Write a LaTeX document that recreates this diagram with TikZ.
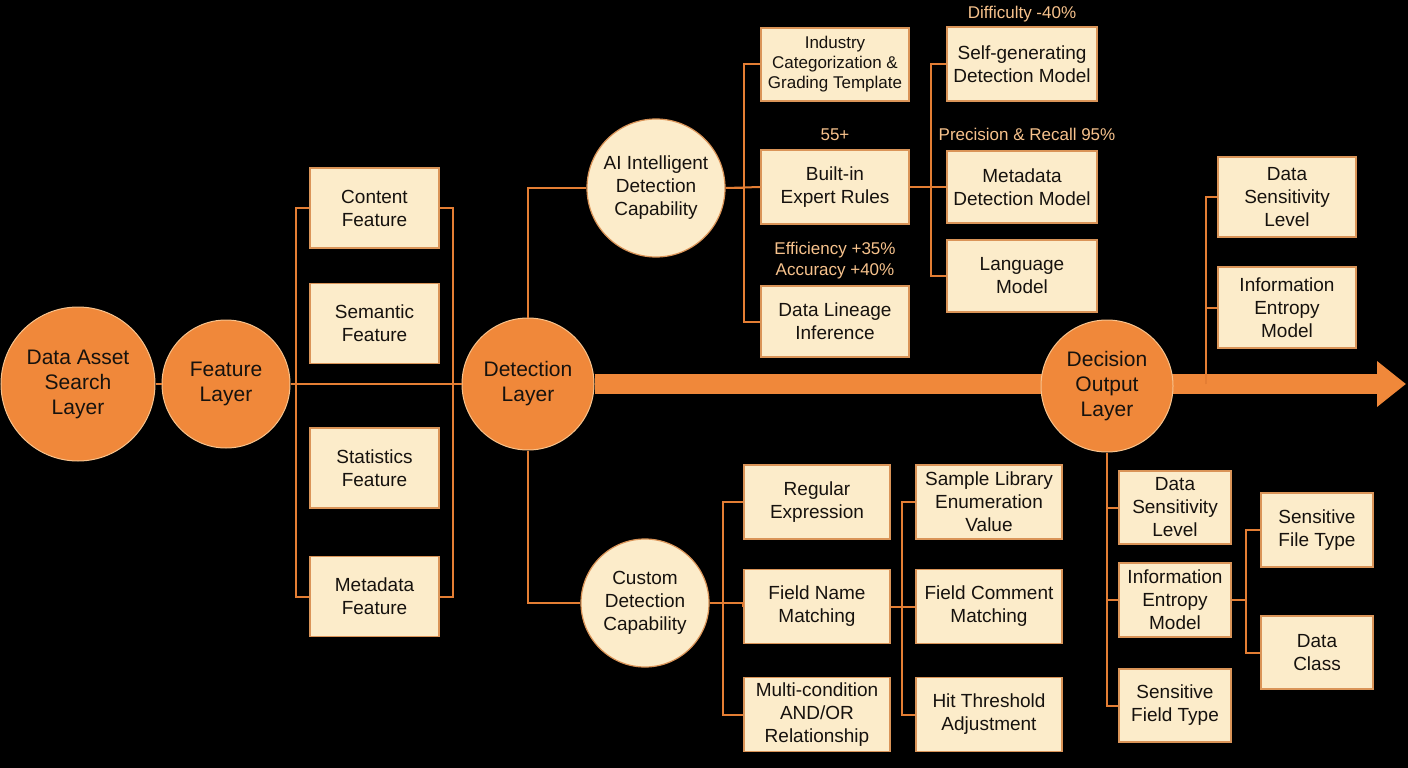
\documentclass[tikz,border=0pt]{standalone}
\usepackage{fontspec}
\setmainfont{Liberation Sans}
\usetikzlibrary{arrows.meta}
\definecolor{ocre}{RGB}{240,136,58}
\definecolor{creme}{RGB}{252,236,202}
\definecolor{brun}{RGB}{218,148,88}
\definecolor{fil}{RGB}{228,126,52}
\definecolor{peche}{RGB}{247,194,140}
\definecolor{encre}{RGB}{22,18,14}

\begin{document}
\begin{tikzpicture}[x=1pt,y=-1pt,
  couche/.style={circle,fill=ocre,draw=peche,line width=1pt,minimum size=#1,inner sep=0pt,align=center,text=encre,font=\fontsize{21}{25}\selectfont},
  capa/.style={circle,fill=creme,draw=brun,line width=1.2pt,minimum size=#1,inner sep=0pt,align=center,text=encre,font=\fontsize{19}{23}\selectfont},
  boite/.style={rectangle,fill=creme,draw=brun,line width=1.5pt,inner sep=0pt,align=center,text=encre,font=\fontsize{19}{23}\selectfont},
  lien/.style={fil,line width=2pt},
  fleche/.style={ocre,line width=20pt,-{Triangle[length=29pt,width=44pt]}},
  note/.style={text=peche,align=center,font=\fontsize{17}{21}\selectfont}]
\useasboundingbox (0,0) rectangle (1408,768);
\fill [black] (0,0) rectangle (1408,768);

% couches
\node [couche=154] (asset) at (78,384) {Data Asset\\Search\\Layer};
\node [couche=128] (feat) at (226,384) {Feature\\Layer};
\node [couche=132] (detect) at (528,384) {Detection\\Layer};
\coordinate (pointe) at (1406,384);
\draw [fleche] (detect.east) -- (pointe);
\node [couche=132] (decis) at (1107,386) {Decision\\Output\\Layer};

% features
\node [boite,minimum width=129,minimum height=80] (contenu) at (374.5,208) {Content\\Feature};
\node [boite,minimum width=129,minimum height=80] (seman) at (374.5,323.5) {Semantic\\Feature};
\node [boite,minimum width=129,minimum height=80] (stat) at (374.5,468) {Statistics\\Feature};
\node [boite,minimum width=129,minimum height=80] (metad) at (374.5,596.5) {Metadata\\Feature};

% AI
\node [capa=138] (ai) at (656,188) {AI Intelligent\\Detection\\Capability};
\node [boite,minimum width=148,minimum height=73,font=\fontsize{17}{20}\selectfont] (indus) at (835,64.5) {Industry\\Categorization \&\\Grading Template};
\node [boite,minimum width=148,minimum height=74] (regles) at (835,187) {Built-in\\Expert Rules};
\node [boite,minimum width=148,minimum height=71] (lignee) at (835,321.5) {Data Lineage\\Inference};
\node [boite,minimum width=150,minimum height=74] (autogen) at (1022,64) {Self-generating\\Detection Model};
\node [boite,minimum width=150,minimum height=72] (metamod) at (1022,187) {Metadata\\Detection Model};
\node [boite,minimum width=150,minimum height=72] (langue) at (1022,276) {Language\\Model};
\node [note] (n55) at (835,135) {55+};
\node [note] (ndiff) at (1022,14) {Difficulty -40\%};
\node [note] (nprec) at (1027,134) {Precision \& Recall 95\%};
\node [note] (neff) at (835,261) {Efficiency +35\%\\Accuracy +40\%};

% custom
\node [capa=128] (custom) at (645,603) {Custom\\Detection\\Capability};
\node [boite,minimum width=146,minimum height=74] (regex) at (817,502) {Regular\\Expression};
\node [boite,minimum width=146,minimum height=74] (champ) at (817,606.5) {Field Name\\Matching};
\node [boite,minimum width=146,minimum height=74] (multi) at (817,714.5) {Multi-condition\\AND/OR\\Relationship};
\node [boite,minimum width=146,minimum height=74] (echant) at (989,502) {Sample Library\\Enumeration\\Value};
\node [boite,minimum width=146,minimum height=74] (comment) at (989,606.5) {Field Comment\\Matching};
\node [boite,minimum width=146,minimum height=74] (seuil) at (989,714.5) {Hit Threshold\\Adjustment};

% decision
\node [boite,minimum width=138,minimum height=80] (sensA) at (1287,197) {Data\\Sensitivity\\Level};
\node [boite,minimum width=138,minimum height=81] (entroA) at (1287,307.5) {Information\\Entropy\\Model};
\node [boite,minimum width=112,minimum height=73] (sensB) at (1175,507.5) {Data\\Sensitivity\\Level};
\node [boite,minimum width=112,minimum height=74] (entroB) at (1175,600) {Information\\Entropy\\Model};
\node [boite,minimum width=112,minimum height=73] (champtype) at (1175,705.5) {Sensitive\\Field Type};
\node [boite,minimum width=112,minimum height=74] (fichtype) at (1317,530) {Sensitive\\File Type};
\node [boite,minimum width=112,minimum height=73] (classe) at (1317,652.5) {Data\\Class};
\coordinate (haut) at (1206,384);

% liens
\draw [lien] (asset) -- (feat);
\draw [lien] (feat) -- (detect);
\draw [lien] (contenu.west) -- ++(-13,0) |- (metad.west);
\draw [lien] (contenu.east) -- ++(13,0) |- (metad.east);
\draw [lien] (detect.north) |- (ai.west);
\draw [lien] (detect.south) |- (custom.west);

\draw [lien] (ai.east) -- (regles.west);
\draw [lien] (ai.east) -- ++(18,0) |- (indus.west);
\draw [lien] (ai.east) -- ++(18,0) |- (lignee.west);
\draw [lien] (regles.east) -- (metamod.west);
\draw [lien] (regles.east) -- ++(21,0) |- (autogen.west);
\draw [lien] (regles.east) -- ++(21,0) |- (langue.west);

\draw [lien] (custom.east) -- (champ.west |- custom.east) |- (champ.west);
\draw [lien] (custom.east) -- ++(13,0) |- (regex.west);
\draw [lien] (custom.east) -- ++(13,0) |- (multi.west);
\draw [lien] (champ.east) -- (comment.west);
\draw [lien] (champ.east) -- ++(11,0) |- (echant.west);
\draw [lien] (champ.east) -- ++(11,0) |- (seuil.west);

\draw [lien] (haut) |- (sensA.west);
\draw [lien] (entroA.west -| haut) -- (entroA.west);
\draw [lien] (decis.south) |- (champtype.west);
\draw [lien] (sensB.west -| decis.south) -- (sensB.west);
\draw [lien] (entroB.west -| decis.south) -- (entroB.west);
\draw [lien] (entroB.east) -- ++(14,0) |- (fichtype.west);
\draw [lien] (entroB.east) -- ++(14,0) |- (classe.west);

\end{tikzpicture}
\end{document}
